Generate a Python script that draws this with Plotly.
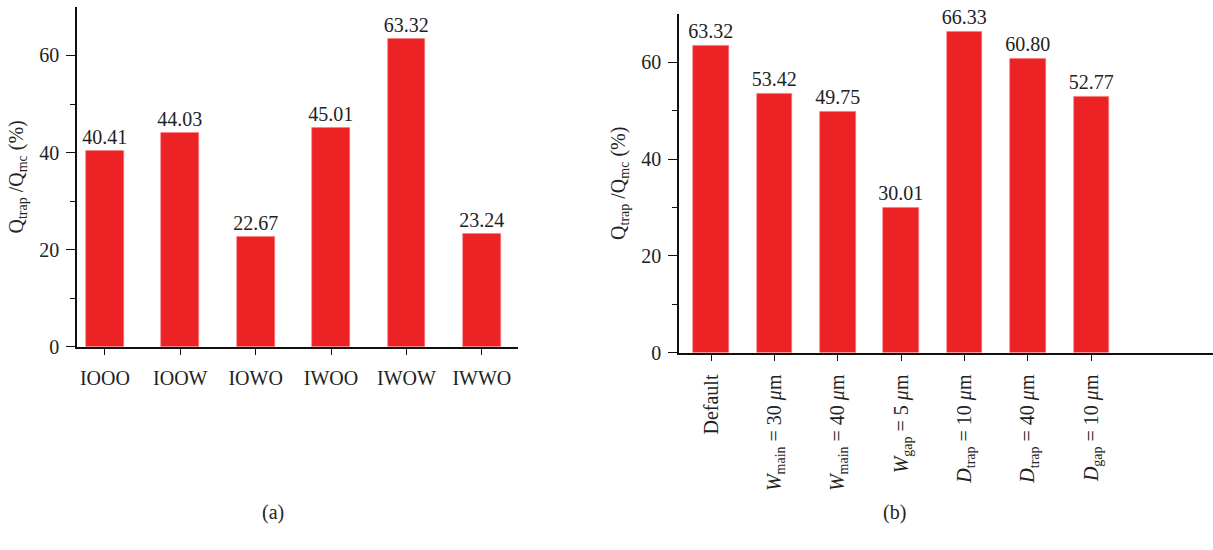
import plotly.graph_objects as go

# Panel (a): trap ratio per configuration
configs_a = ["IOOO", "IOOW", "IOWO", "IWOO", "IWOW", "IWWO"]
ratio_a = [40.41, 44.03, 22.67, 45.01, 63.32, 23.24]
labels_a = ["40.41", "44.03", "22.67", "45.01", "63.32", "23.24"]

# Panel (b): trap ratio per geometry variation
configs_b = ["Default", "Wmain30", "Wmain40", "Wgap5", "Dtrap10", "Dtrap40", "Dgap10"]
ticktext_b = [
    "Default",
    "<i>W</i><sub>main</sub> = 30 <i>μ</i>m",
    "<i>W</i><sub>main</sub> = 40 <i>μ</i>m",
    "<i>W</i><sub>gap</sub> = 5 <i>μ</i>m",
    "<i>D</i><sub>trap</sub> = 10 <i>μ</i>m",
    "<i>D</i><sub>trap</sub> = 40 <i>μ</i>m",
    "<i>D</i><sub>gap</sub> = 10 <i>μ</i>m",
]
ratio_b = [63.32, 53.42, 49.75, 30.01, 66.33, 60.80, 52.77]
labels_b = ["63.32", "53.42", "49.75", "30.01", "66.33", "60.80", "52.77"]

W, H = 1213, 550
FONT = "Liberation Serif"
RED = "#ED2224"
FS = 20
TXT = "#222"

fig = go.Figure()

fig.add_trace(go.Bar(
    x=list(range(len(configs_a))), y=ratio_a, text=labels_a,
    textposition="outside", cliponaxis=False, width=0.5,
    constraintext="none",
    marker=dict(color=RED, line=dict(color="#F47A7C", width=0.6)),
    textfont=dict(family=FONT, size=FS, color=TXT),
    xaxis="x", yaxis="y", showlegend=False,
))
fig.add_trace(go.Bar(
    x=list(range(len(configs_b))), y=ratio_b, text=labels_b,
    textposition="outside", cliponaxis=False, width=0.56,
    constraintext="none",
    marker=dict(color=RED, line=dict(color="#F47A7C", width=0.6)),
    textfont=dict(family=FONT, size=FS, color=TXT),
    xaxis="x2", yaxis="y2", showlegend=False,
))

def px_x(v):
    return v / W

def px_y(v):
    return 1 - v / H

yaxis_common = dict(
    range=[0, 70], tickmode="array", tickvals=[0, 20, 40, 60],
    ticks="outside", ticklen=9, tickwidth=1.3, tickcolor="#111",
    showline=True, linecolor="#111", linewidth=1.5,
    showgrid=False, zeroline=False, ticklabelstandoff=3,
    tickfont=dict(family=FONT, size=FS, color=TXT),
    minor=dict(tickmode="array", tickvals=[10, 30, 50], ticks="outside",
               ticklen=5, tickwidth=1.3, tickcolor="#111", showgrid=False),
    title=dict(text="Q<sub>trap</sub> /Q<sub>mc</sub> (%)",
               font=dict(family=FONT, size=FS, color=TXT), standoff=10),
)

xaxis_common = dict(
    ticks="outside", ticklen=6, tickwidth=1.3, tickcolor="#111",
    showline=True, linecolor="#111", linewidth=1.5,
    showgrid=False, zeroline=False, ticklabelstandoff=6,
    tickfont=dict(family=FONT, size=FS, color=TXT),
)

fig.update_layout(
    width=W, height=H,
    margin=dict(l=0, r=0, t=0, b=0),
    plot_bgcolor="white", paper_bgcolor="white",
    bargap=0,
    xaxis=dict(domain=[px_x(77), px_x(518)], anchor="y",
               range=[-0.37, 5.48], tickmode="array",
               tickvals=list(range(len(configs_a))), ticktext=configs_a,
               **xaxis_common),
    yaxis=dict(domain=[px_y(354), px_y(7)], anchor="x", **yaxis_common),
    xaxis2=dict(domain=[px_x(679), 1.0], anchor="y2",
                range=[-0.505, 7.92], tickmode="array",
                tickvals=list(range(len(configs_b))), ticktext=ticktext_b,
                tickangle=-90, **xaxis_common),
    yaxis2=dict(domain=[px_y(360), px_y(14)], anchor="x2", **yaxis_common),
    annotations=[
        dict(text="(a)", x=px_x(260), y=px_y(537), xref="paper", yref="paper",
             showarrow=False, font=dict(family=FONT, size=FS, color=TXT)),
        dict(text="(b)", x=px_x(908), y=px_y(537), xref="paper", yref="paper",
             showarrow=False, font=dict(family=FONT, size=FS, color=TXT)),
    ],
)

fig.write_html("out.html")
